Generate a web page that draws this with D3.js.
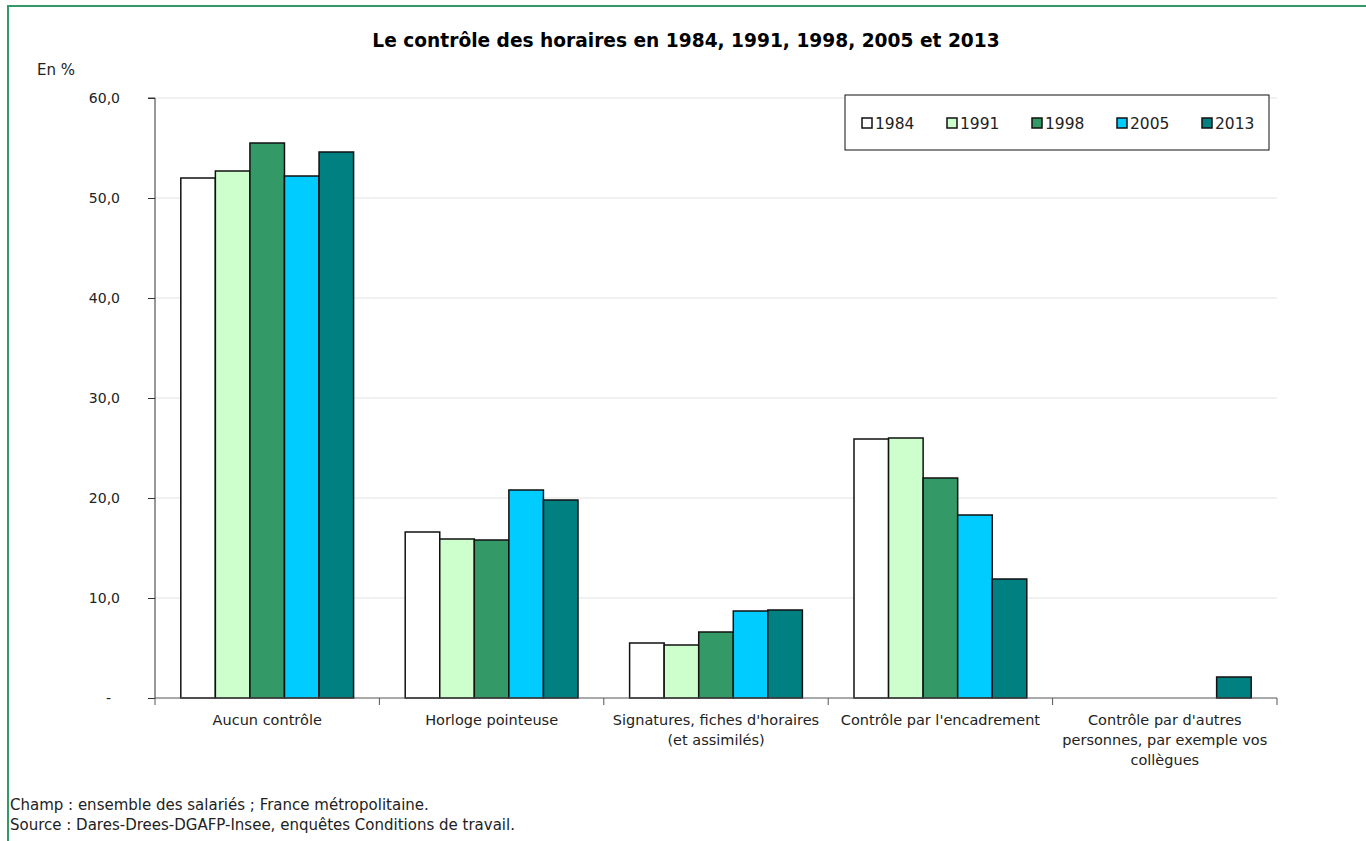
<!DOCTYPE html>
<html>
<head>
<meta charset="utf-8">
<script src="https://cdn.jsdelivr.net/npm/d3@7"></script>
<style>
body { margin: 0; background: #fff; }
svg { display: block; font-family: Tahoma, "DejaVu Sans", sans-serif; }
</style>
</head>
<body>
<svg width="1366" height="841"></svg>
<script>
// categories (line breaks as in the reference)
var categories = [
    'Aucun contrôle',
    'Horloge pointeuse',
    "Signatures, fiches d'horaires\n(et assimilés)",
    "Contrôle par l'encadrement",
    "Contrôle par d'autres\npersonnes, par exemple vos\ncollègues"
];
var years = ['1984', '1991', '1998', '2005', '2013'];
var yearColors = ['#ffffff', '#ccffcc', '#339966', '#00ccff', '#008080'];

// values per year, in category order (null = not asked)
var v1984 = [52.0, 16.6, 5.5, 25.9, null];
var v1991 = [52.7, 15.9, 5.3, 26.0, null];
var v1998 = [55.5, 15.8, 6.6, 22.0, null];
var v2005 = [52.2, 20.8, 8.7, 18.3, null];
var v2013 = [54.6, 19.8, 8.8, 11.9, 2.1];
var yTicks = [0, 10, 20, 30, 40, 50, 60];

var seriesValues = [v1984, v1991, v1998, v2005, v2013];

var svg = d3.select('svg');

// frame
svg.append('rect')
    .attr('x', 8).attr('y', 6)
    .attr('width', 1400).attr('height', 900)
    .attr('fill', 'none')
    .attr('stroke', '#339966')
    .attr('stroke-width', 2);

var plot = {l: 155, r: 1277, t: 98, b: 698};

var xScale = d3.scaleBand()
    .domain(d3.range(categories.length))
    .range([plot.l, plot.r]);

var gap = xScale.bandwidth() * 0.115;
var xInner = d3.scaleBand()
    .domain(years)
    .range([gap, xScale.bandwidth() - gap]);

var yScale = d3.scaleLinear()
    .domain([0, 60])
    .range([plot.b, plot.t]);

// gridlines
svg.append('g')
    .selectAll('line')
    .data(yTicks.slice(1))
    .enter().append('line')
    .attr('x1', plot.l).attr('x2', plot.r)
    .attr('y1', function(d) { return yScale(d); })
    .attr('y2', function(d) { return yScale(d); })
    .attr('stroke', '#e3e3e3')
    .attr('stroke-width', 1);

// bars
var groups = svg.append('g')
    .selectAll('g')
    .data(years)
    .enter().append('g');

groups.selectAll('rect')
    .data(function(y, i) {
        return seriesValues[i].map(function(v, c) { return {year: y, idx: i, cat: c, value: v}; })
            .filter(function(d) { return d.value != null; });
    })
    .enter().append('rect')
    .attr('x', function(d) { return xScale(d.cat) + xInner(d.year); })
    .attr('width', xInner.bandwidth())
    .attr('y', function(d) { return yScale(d.value); })
    .attr('height', function(d) { return yScale(0) - yScale(d.value); })
    .attr('fill', function(d) { return yearColors[d.idx]; })
    .attr('stroke', '#111')
    .attr('stroke-width', 1.5);

// y axis
var yAxis = d3.axisLeft(yScale)
    .tickValues(yTicks)
    .tickSize(7)
    .tickPadding(28)
    .tickFormat(function(d) { return d === 0 ? '-' : d.toFixed(1).replace('.', ','); });

var yAxisG = svg.append('g')
    .attr('transform', 'translate(' + plot.l + ',0)')
    .call(yAxis);
yAxisG.select('.domain').attr('stroke', '#333').attr('d', 'M-7,' + plot.t + 'H0V' + plot.b);
yAxisG.selectAll('.tick line').attr('stroke', '#333');
yAxisG.selectAll('text')
    .attr('font-family', 'Verdana, "DejaVu Sans", sans-serif')
    .attr('font-size', 14)
    .attr('fill', '#222');
yAxisG.selectAll('.tick').filter(function(d) { return d === 0; })
    .select('text').attr('x', -44);

// x axis
var xEdges = d3.range(categories.length + 1).map(function(i) { return plot.l + i * xScale.step(); });
var xAxisG = svg.append('g');
xAxisG.append('line')
    .attr('x1', plot.l).attr('x2', plot.r)
    .attr('y1', plot.b).attr('y2', plot.b)
    .attr('stroke', '#555');
xAxisG.selectAll('.xt')
    .data(xEdges)
    .enter().append('line')
    .attr('class', 'xt')
    .attr('x1', function(d) { return d; }).attr('x2', function(d) { return d; })
    .attr('y1', plot.b).attr('y2', plot.b + 7)
    .attr('stroke', '#555');

var xLabels = xAxisG.selectAll('.xl')
    .data(categories)
    .enter().append('text')
    .attr('class', 'xl')
    .attr('text-anchor', 'middle')
    .attr('font-size', 14.5)
    .attr('fill', '#222')
    .attr('transform', function(d, i) { return 'translate(' + (xScale(i) + xScale.bandwidth() / 2) + ',' + 725 + ')'; });
xLabels.selectAll('tspan')
    .data(function(d) { return d.split('\n'); })
    .enter().append('tspan')
    .attr('x', 0)
    .attr('dy', function(d, i) { return i === 0 ? 0 : 20; })
    .text(function(d) { return d; });

// title
svg.append('text')
    .attr('x', 686).attr('y', 47)
    .attr('text-anchor', 'middle')
    .attr('font-weight', 'bold')
    .attr('font-size', 18.6)
    .attr('fill', '#000')
    .text('Le contrôle des horaires en 1984, 1991, 1998, 2005 et 2013');

svg.append('text')
    .attr('x', 37).attr('y', 75)
    .attr('font-size', 15)
    .attr('font-family', 'Verdana, "DejaVu Sans", sans-serif')
    .attr('fill', '#222')
    .text('En %');

// legend
var legend = svg.append('g').attr('transform', 'translate(845,95)');
legend.append('rect')
    .attr('width', 424).attr('height', 55)
    .attr('fill', '#fff')
    .attr('stroke', '#111')
    .attr('stroke-width', 1);
var li = legend.selectAll('.li')
    .data(years)
    .enter().append('g')
    .attr('class', 'li')
    .attr('transform', function(d, i) { return 'translate(' + (17 + i * 85) + ',23)'; });
li.append('rect')
    .attr('width', 10).attr('height', 10)
    .attr('fill', function(d, i) { return yearColors[i]; })
    .attr('stroke', '#111')
    .attr('stroke-width', 1.5);
li.append('text')
    .attr('x', 13).attr('y', 11)
    .attr('font-size', 15.5)
    .attr('font-family', 'Verdana, "DejaVu Sans", sans-serif')
    .attr('fill', '#222')
    .text(function(d) { return d; });

// notes
var notes = ['Champ : ensemble des salariés ; France métropolitaine.',
             'Source : Dares-Drees-DGAFP-Insee, enquêtes Conditions de travail.'];
svg.selectAll('.note')
    .data(notes)
    .enter().append('text')
    .attr('class', 'note')
    .attr('x', 10)
    .attr('y', function(d, i) { return 810 + i * 20; })
    .attr('font-size', 15)
    .attr('fill', '#222')
    .text(function(d) { return d; });
</script>
</body>
</html>
